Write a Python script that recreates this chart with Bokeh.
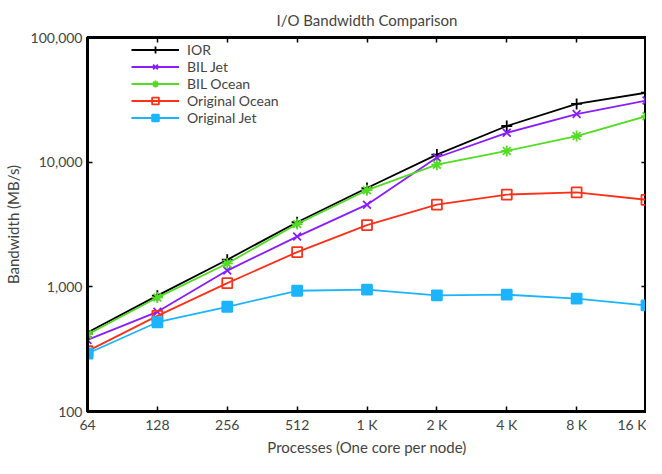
from bokeh.plotting import figure
from bokeh.models import (LogAxis, FixedTicker, NumeralTickFormatter, Legend,
                          LegendItem, Range1d)
from bokeh.embed import file_html
from bokeh.resources import INLINE

procs = [64, 128, 256, 512, 1024, 2048, 4096, 8192, 16384]
x_labels = ["64", "128", "256", "512", "1 K", "2 K", "4 K", "8 K", "16 K"]
ior = [430, 850, 1650, 3300, 6200, 11500, 19500, 29300, 36100]
bil_jet = [375, 630, 1350, 2530, 4560, 10900, 17200, 24300, 31200]
bil_ocean = [415, 820, 1540, 3190, 5960, 9550, 12300, 16200, 23400]
orig_ocean = [305, 585, 1070, 1900, 3130, 4560, 5500, 5720, 4990]
orig_jet = [292, 520, 692, 930, 948, 855, 865, 804, 710]
y_ticks = [100, 1000, 10000, 100000]

FONT = "Lato"

p = figure(width=646, height=458, x_axis_type="log", y_axis_type="log",
           x_range=Range1d(64, 16384), y_range=Range1d(100, 100000),
           output_backend="svg", toolbar_location=None,
           title="I/O Bandwidth Comparison",
           min_border_left=79, min_border_right=0, min_border_top=0,
           min_border_bottom=0)

p.title.align = "center"
p.title.text_font = FONT
p.title.text_font_size = "15px"
p.title.text_font_style = "normal"
p.title.standoff = 17

p.xgrid.visible = False
p.ygrid.visible = False
p.outline_line_color = "black"
p.outline_line_width = 3
p.outline_line_alpha = 1

label_map = {v: l for v, l in zip(procs, x_labels)}

def style_axis(ax):
    ax.axis_line_color = "black"
    ax.axis_line_width = 3
    ax.major_tick_in = 5
    ax.major_tick_out = 0
    ax.minor_tick_in = 0
    ax.minor_tick_out = 0
    ax.major_tick_line_width = 1.5
    ax.minor_tick_line_color = None
    ax.major_label_text_font = FONT
    ax.major_label_text_font_size = "14px"
    ax.major_label_standoff = 4
    ax.axis_label_text_font = FONT
    ax.axis_label_text_font_size = "15px"
    ax.axis_label_text_font_style = "normal"

xax = p.xaxis[0]
xax.ticker = FixedTicker(ticks=procs)
xax.major_label_overrides = label_map
xax.axis_label = "Processes (One core per node)"
style_axis(xax)
xax.axis_label_standoff = 2

yax = p.yaxis[0]
yax.ticker = FixedTicker(ticks=y_ticks)
yax.formatter = NumeralTickFormatter(format="0,0")
yax.axis_label = "Bandwidth (MB/s)"
style_axis(yax)
yax.axis_label_standoff = 6
yax.major_label_standoff = 5

def mirror(ax, ticks):
    style_axis(ax)
    ax.major_label_overrides = {t: "" for t in ticks}
    ax.major_label_text_color = None
    ax.major_label_text_font_size = "1px"
    ax.major_label_standoff = 0

top = LogAxis(ticker=FixedTicker(ticks=procs))
mirror(top, procs)
p.add_layout(top, "above")
right = LogAxis(ticker=FixedTicker(ticks=y_ticks))
mirror(right, y_ticks)
p.add_layout(right, "right")

series = [
    ("IOR", ior, "black", "cross", True),
    ("BIL Jet", bil_jet, "#8a1cff", "x", True),
    ("BIL Ocean", bil_ocean, "#52dc22", "asterisk", True),
    ("Original Ocean", orig_ocean, "#ff3018", "square", False),
    ("Original Jet", orig_jet, "#1cb4ff", "square", True),
]

items = []
for name, vals, color, marker, filled in series:
    ln = p.line(procs, vals, line_color=color, line_width=1.8)
    if marker == "square":
        sc = p.scatter(procs, vals, marker="square", size=10,
                       line_color=color, line_width=1.8,
                       fill_color=color if filled else None)
    else:
        sc = p.scatter(procs, vals, marker=marker, size=11,
                       line_color=color, line_width=1.8)
    items.append(LegendItem(label=name, renderers=[ln, sc]))

legend = Legend(items=items, location=(44, 285))
legend.border_line_color = None
legend.background_fill_alpha = 0
legend.label_text_font = FONT
legend.label_text_font_size = "14px"
legend.glyph_width = 48
legend.glyph_height = 17
legend.label_height = 17
legend.spacing = 0
legend.padding = 2
legend.label_standoff = 8
p.add_layout(legend, "center")

open("out.html", "w").write(file_html(p, INLINE))
